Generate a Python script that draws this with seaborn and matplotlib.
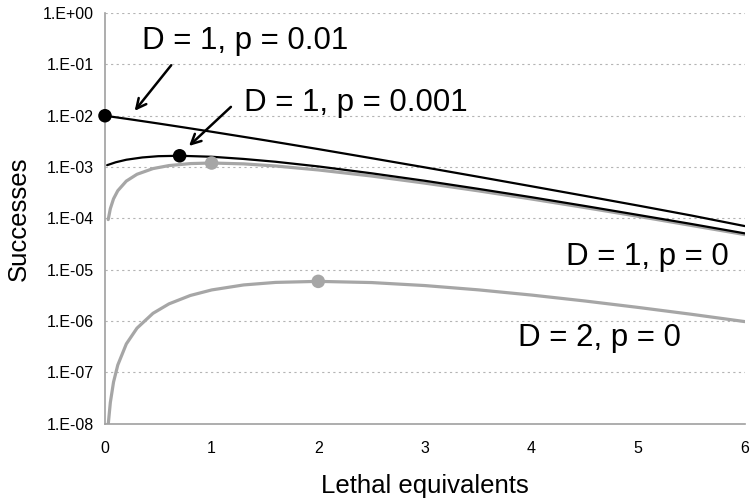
import numpy as np
import pandas as pd
import matplotlib
matplotlib.use("Agg")
import matplotlib.pyplot as plt
from matplotlib.ticker import FixedLocator, FuncFormatter, NullLocator
import seaborn as sns

# values
x_d1_p01 = [0, 0.25, 0.5, 0.75, 1, 1.5, 2, 2.5, 3, 3.5, 4, 4.5, 5, 5.5, 6]
y_d1_p01 = [1.0e-2, 8.43e-3, 7.06e-3, 5.88e-3, 4.88e-3, 3.33e-3, 2.24e-3, 1.49e-3,
            9.87e-4, 6.48e-4, 4.23e-4, 2.75e-4, 1.78e-4, 1.14e-4, 7.1e-5]

x_d1_p001 = [0.02, 0.1, 0.2, 0.35, 0.5, 0.7, 1, 1.3, 1.6, 2, 2.5, 3, 3.5, 4, 4.5, 5, 5.5, 6]
y_d1_p001 = [1.09e-3, 1.24e-3, 1.39e-3, 1.54e-3, 1.63e-3, 1.66e-3, 1.59e-3, 1.44e-3,
             1.27e-3, 1.03e-3, 7.57e-4, 5.41e-4, 3.77e-4, 2.59e-4, 1.75e-4, 1.17e-4,
             7.8e-5, 5.12e-5]

x_p0 = [0.03, 0.05, 0.08, 0.12, 0.2, 0.3, 0.45, 0.6, 0.8, 1.0, 1.3, 1.6, 2.0, 2.5,
        3.0, 3.5, 4.0, 4.5, 5.0, 5.5, 6.0]
y_d1_p0 = [9.5e-5, 1.55e-4, 2.41e-4, 3.47e-4, 5.34e-4, 7.24e-4, 9.35e-4, 1.07e-3,
           1.17e-3, 1.20e-3, 1.155e-3, 1.05e-3, 8.8e-4, 6.7e-4, 4.87e-4, 3.45e-4,
           2.39e-4, 1.63e-4, 1.10e-4, 7.3e-5, 4.85e-5]
y_d2_p0 = [9.6e-9, 2.6e-8, 6.5e-8, 1.40e-7, 3.6e-7, 7.3e-7, 1.42e-6, 2.17e-6, 3.16e-6,
           4.05e-6, 5.07e-6, 5.68e-6, 5.95e-6, 5.64e-6, 4.93e-6, 4.07e-6, 3.22e-6,
           2.47e-6, 1.85e-6, 1.36e-6, 9.8e-7]

# highlighted optimum points
black_pts_x = [0, 0.7]
black_pts_y = [1.0e-2, 1.66e-3]
gray_pts_x = [1, 2]
gray_pts_y = [1.20e-3, 5.95e-6]

curve_labels = ["D = 1, p = 0.01", "D = 1, p = 0.001", "D = 1, p = 0", "D = 2, p = 0"]

sns.set_style("white")
plt.rcParams['font.family'] = ['Liberation Sans', 'DejaVu Sans']
plt.rcParams['text.color'] = 'black'
plt.rcParams['axes.labelcolor'] = 'black'

GRAY = "#a6a6a6"
AXGRAY = "#a0a0a0"

fig = plt.figure(figsize=(7.5, 5.01), dpi=100)
ax = fig.add_axes([0.14, 0.154, 0.853, 0.82])

sns.lineplot(x=x_p0, y=y_d2_p0, color=GRAY, linewidth=2.3, ax=ax)
sns.lineplot(x=x_p0, y=y_d1_p0, color=GRAY, linewidth=2.3, ax=ax)
sns.lineplot(x=x_d1_p001, y=y_d1_p001, color="black", linewidth=1.6, ax=ax)
sns.lineplot(x=x_d1_p01, y=y_d1_p01, color="black", linewidth=1.6, ax=ax)

sns.scatterplot(x=gray_pts_x, y=gray_pts_y, color=GRAY, s=95, edgecolor="none", ax=ax, zorder=4)
sns.scatterplot(x=black_pts_x, y=black_pts_y, color="black", s=95, edgecolor="none", ax=ax,
                zorder=5, clip_on=False)

ax.set_yscale("log")
ax.set_xlim(0, 6)
ax.set_ylim(1e-8, 1)
ax.yaxis.set_major_locator(FixedLocator([10.0 ** e for e in range(-8, 1)]))
ax.yaxis.set_minor_locator(NullLocator())
ax.yaxis.set_major_formatter(FuncFormatter(lambda v, pos: "1.E%+03d" % int(round(np.log10(v)))))
ax.set_xticks(range(0, 7))

ax.grid(axis="y", color="#b4b4b4", linestyle=(0, (2, 3)), linewidth=0.8)
ax.set_axisbelow(True)
for side in ["top", "right"]:
    ax.spines[side].set_visible(False)
for side in ["left", "bottom"]:
    ax.spines[side].set_color(AXGRAY)
    ax.spines[side].set_linewidth(1.2)
ax.tick_params(axis="both", which="major", direction="out", length=4, width=1,
               color=AXGRAY, labelsize=11.5, labelcolor="black", pad=4)
ax.tick_params(axis="x", pad=8)

ax.set_xlabel("Lethal equivalents", fontsize=18.5, labelpad=13)
ax.set_ylabel("Successes", fontsize=18.5, labelpad=9)

# curve labels and arrows
ax.text(1.31, 0.285, curve_labels[0], fontsize=22.5, ha="center", va="center")
ax.text(2.35, 0.0178, curve_labels[1], fontsize=22.5, ha="center", va="center")
ax.text(5.85, 1.78e-5, curve_labels[2], fontsize=22.5, ha="right", va="center")
ax.text(4.64, 4.8e-7, curve_labels[3], fontsize=22.5, ha="center", va="center")

arrow = dict(arrowstyle="->,head_length=0.7,head_width=0.35", color="black", lw=1.8)
ax.annotate("", xy=(0.262, 0.0113), xytext=(0.637, 0.106), arrowprops=arrow)
ax.annotate("", xy=(0.769, 2.37e-3), xytext=(1.2, 0.0162), arrowprops=arrow)

fig.savefig("out.png", dpi=100)
